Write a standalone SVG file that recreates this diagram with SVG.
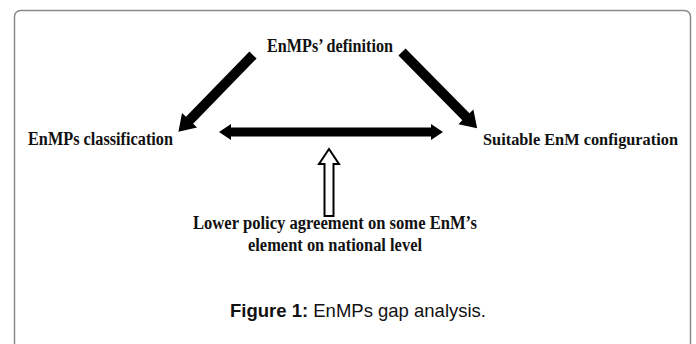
<svg xmlns="http://www.w3.org/2000/svg" width="696" height="344" viewBox="0 0 696 344">
<style>
.lbl{font-family:"Liberation Serif","Times New Roman",serif;font-weight:bold;font-size:18px;fill:#111;}
.cap{font-family:"Liberation Sans",Arial,sans-serif;font-size:18.5px;fill:#111;}
.solid{fill:#000;}
.hollow{fill:#fff;stroke:#000;stroke-width:2;stroke-linejoin:miter;}
</style>
<defs>
<path id="diag" d="M0,-5 L91,-5 L91,-10.5 L107,0 L91,10.5 L91,5 L0,5 Z"/>
</defs>
<rect width="696" height="344" fill="#fff"/>
<rect x="14.5" y="10.5" width="676" height="345" rx="6" fill="none" stroke="#8a8a8a" stroke-width="1.5"/>
<g id="connectors">
<use href="#diag" class="solid" transform="translate(253,55) rotate(134.2)"/>
<use href="#diag" class="solid" transform="translate(402,52) rotate(45.4)"/>
<path class="solid" d="M219,132 L231,124 L231,127.5 L431,127.5 L431,124 L443,132 L431,140 L431,136.5 L231,136.5 L231,140 Z"/>
<path class="hollow" d="M329,149 L339,164 L333.5,164 L333.5,216 L324.5,216 L324.5,164 L319,164 Z"/>
</g>
<g id="node-definition">
<text class="lbl" x="330" y="52" text-anchor="middle" textLength="126" lengthAdjust="spacingAndGlyphs">EnMPs’ definition</text>
</g>
<g id="node-classification">
<text class="lbl" x="100.5" y="145" text-anchor="middle" textLength="145" lengthAdjust="spacingAndGlyphs">EnMPs classification</text>
</g>
<g id="node-configuration">
<text class="lbl" x="580.5" y="145" text-anchor="middle" textLength="195" lengthAdjust="spacingAndGlyphs" style="font-size:17px">Suitable EnM configuration</text>
</g>
<g id="node-policy">
<text class="lbl" x="335" y="229" text-anchor="middle" textLength="284" lengthAdjust="spacingAndGlyphs">Lower policy agreement on some EnM’s</text>
<text class="lbl" x="335" y="251" text-anchor="middle" textLength="174" lengthAdjust="spacingAndGlyphs">element on national level</text>
</g>
<g id="caption">
<text class="cap" x="358" y="317" text-anchor="middle"><tspan font-weight="bold">Figure 1:</tspan> EnMPs gap analysis.</text>
</g>
</svg>
